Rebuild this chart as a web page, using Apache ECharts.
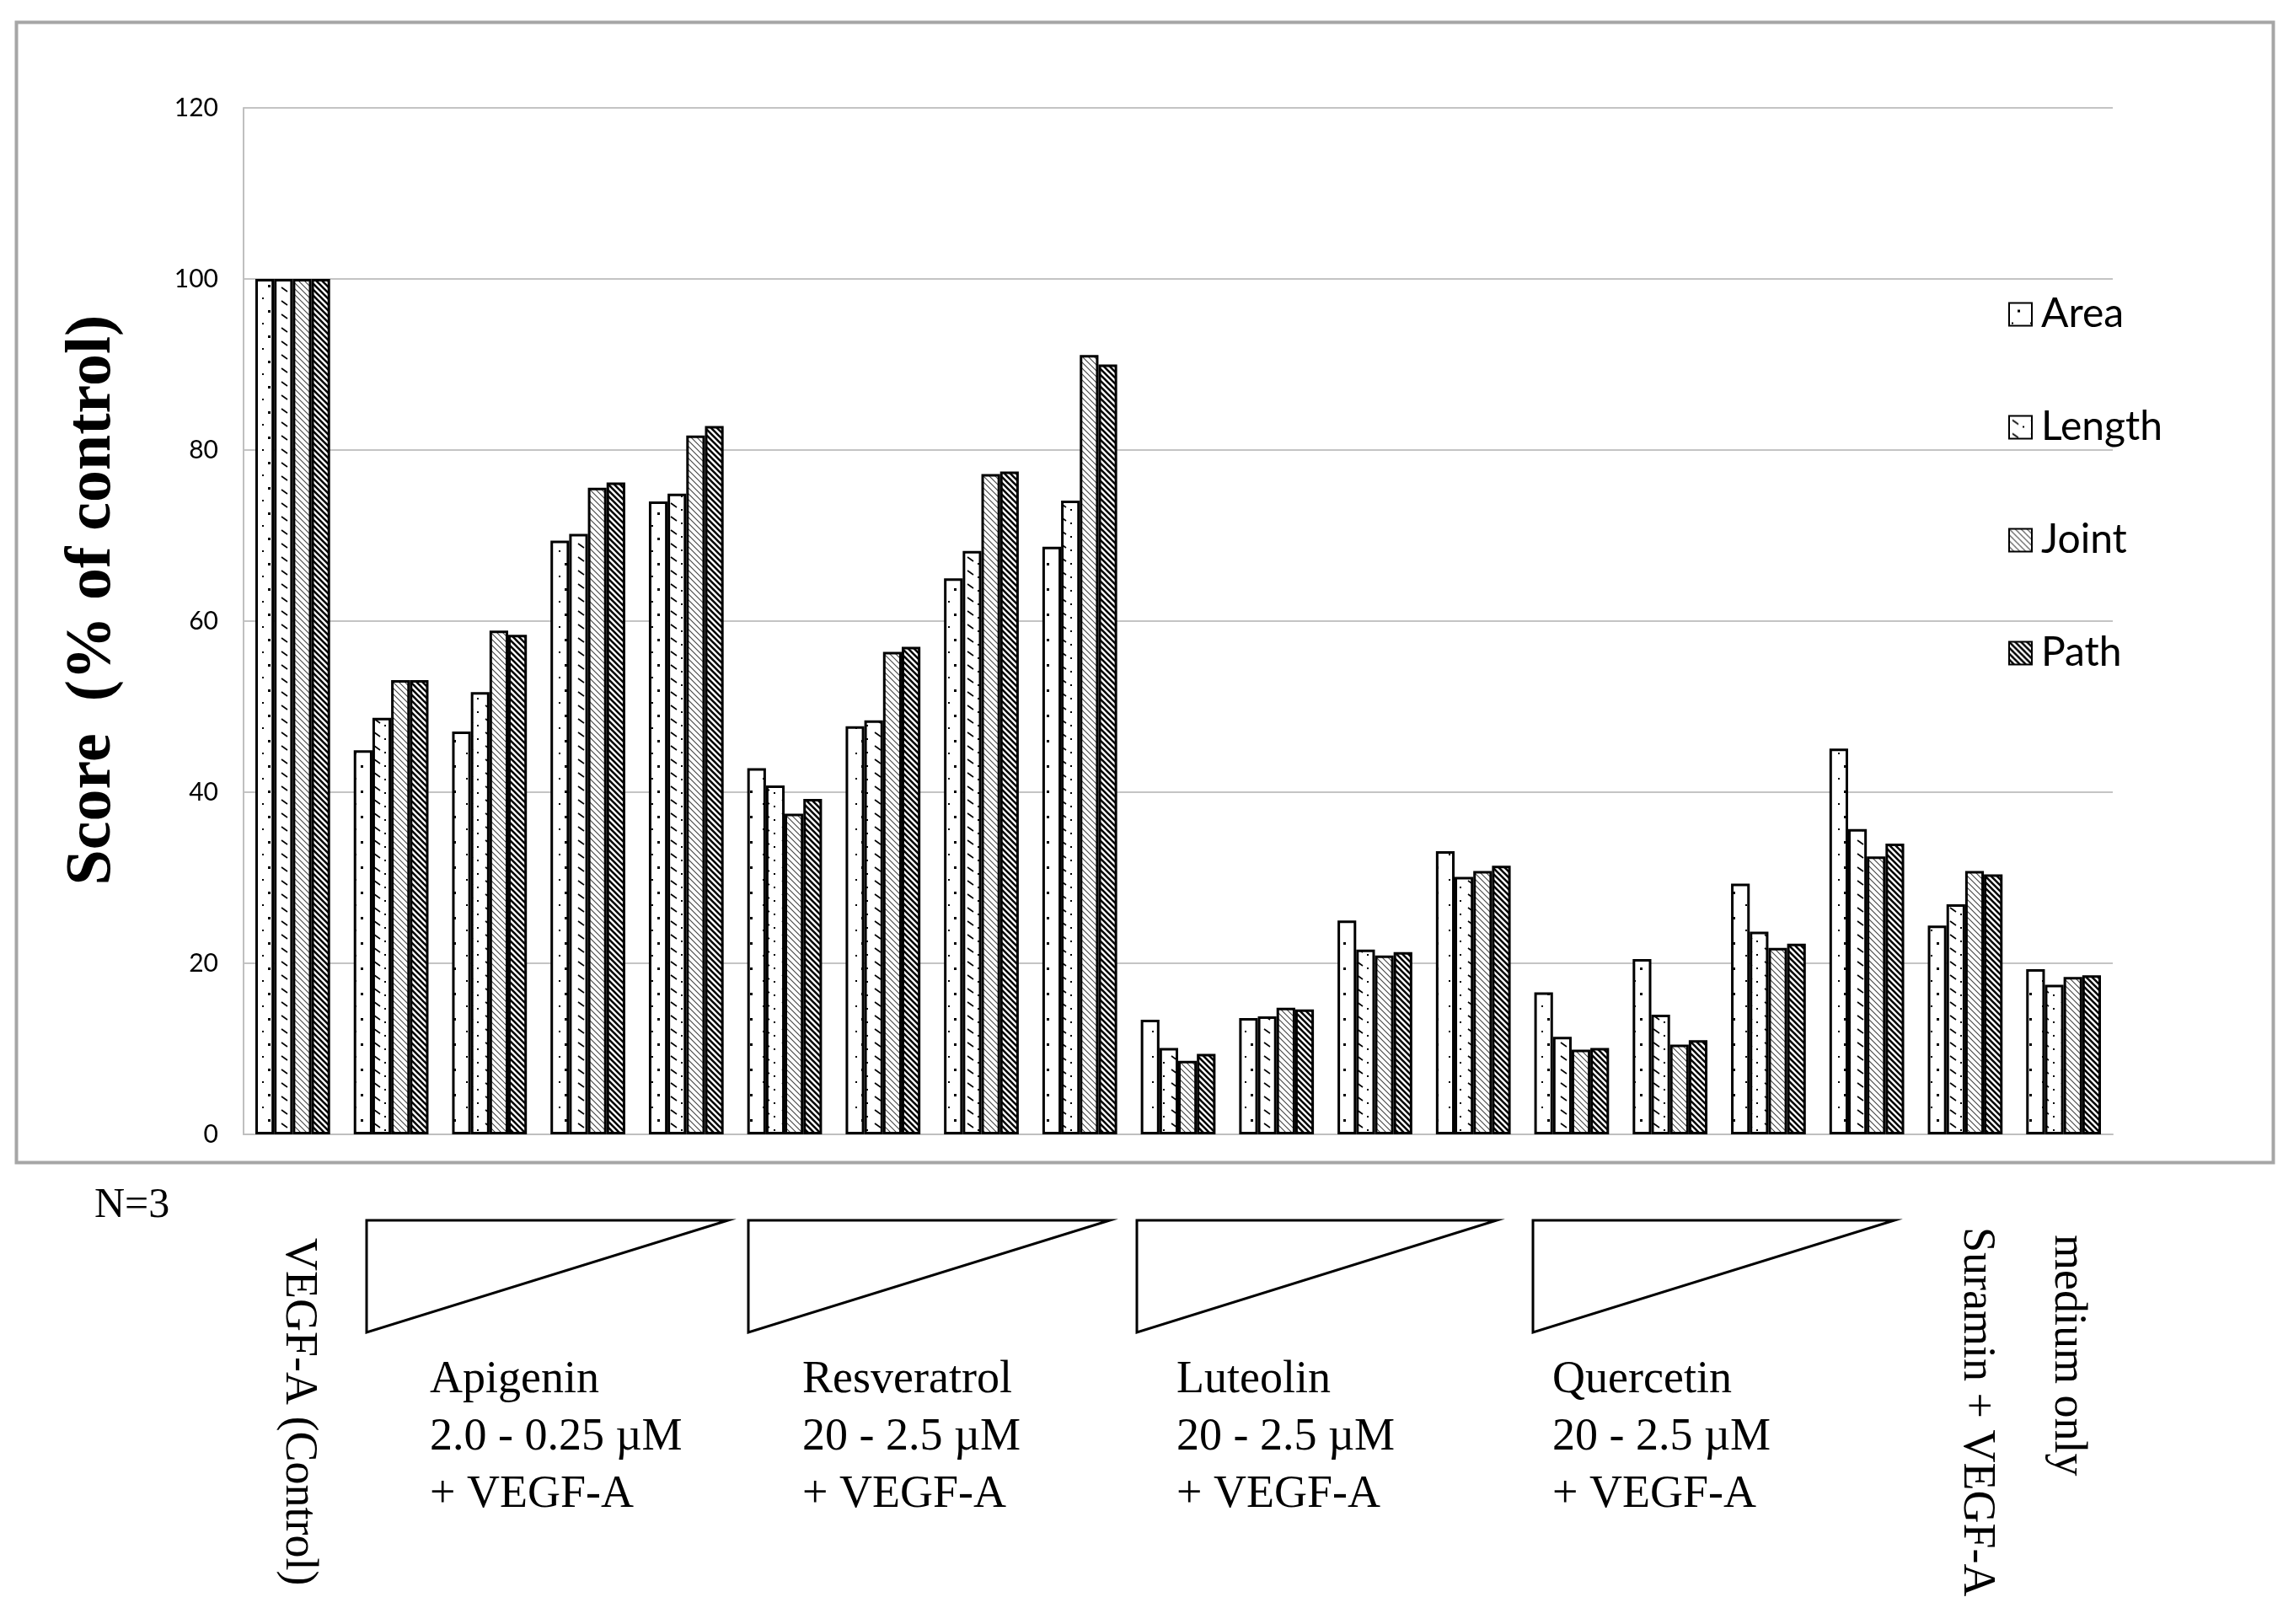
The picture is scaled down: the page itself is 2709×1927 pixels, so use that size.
<!DOCTYPE html>
<html>
<head>
<meta charset="utf-8">
<script src="https://cdn.jsdelivr.net/npm/echarts@6/dist/echarts.min.js"></script>
<style>html,body{margin:0;padding:0;background:#fff}#c{width:2709px;height:1927px}</style>
</head>
<body>
<div id="c"></div>
<script>
const categories = ["VEGF-A (Control)","Apigenin 2.0","Apigenin 1.0","Apigenin 0.5","Apigenin 0.25",
  "Resveratrol 20","Resveratrol 10","Resveratrol 5","Resveratrol 2.5",
  "Luteolin 20","Luteolin 10","Luteolin 5","Luteolin 2.5",
  "Quercetin 20","Quercetin 10","Quercetin 5","Quercetin 2.5",
  "Suramin + VEGF-A","medium only"];
const seriesNames = ["Area","Length","Joint","Path"];
const area   = [100, 44.9, 47.1, 69.4, 74.0, 42.8, 47.7, 65.0, 68.7, 13.4, 13.6, 25.0, 33.1, 16.6, 20.5, 29.3, 45.1, 24.4, 19.3];
const length = [100, 48.7, 51.7, 70.2, 74.9, 40.8, 48.4, 68.2, 74.1, 10.1, 13.8, 21.6, 30.1, 11.4, 14.0, 23.7, 35.7, 26.9, 17.5];
const joint  = [100, 53.1, 58.9, 75.6, 81.7, 37.5, 56.4, 77.2, 91.1,  8.6, 14.8, 20.9, 30.8,  9.9, 10.5, 21.8, 32.5, 30.8, 18.4];
const path   = [100, 53.1, 58.4, 76.2, 82.8, 39.2, 57.0, 77.5, 90.0,  9.4, 14.6, 21.3, 31.4, 10.1, 11.0, 22.3, 34.0, 30.4, 18.6];
const yTicks = [0, 20, 40, 60, 80, 100, 120];
const yTitle = "Score  (% of control)";
const groupTexts = [
  ["Apigenin", "2.0 - 0.25 \u00b5M", "+ VEGF-A"],
  ["Resveratrol", "20 - 2.5 \u00b5M", "+ VEGF-A"],
  ["Luteolin", "20 - 2.5 \u00b5M", "+ VEGF-A"],
  ["Quercetin", "20 - 2.5 \u00b5M", "+ VEGF-A"]
];

function makePattern(kind) {
  const c = document.createElement('canvas');
  const ctx = c.getContext('2d');
  if (kind === 'dots') {
    c.width = 22; c.height = 30;
    ctx.fillStyle = '#fff'; ctx.fillRect(0, 0, 22, 30);
    ctx.fillStyle = '#000';
    ctx.fillRect(10, 8, 3, 3);
    ctx.fillRect(3, 23, 2, 2);
  } else if (kind === 'dash') {
    c.width = 22; c.height = 16;
    ctx.fillStyle = '#fff'; ctx.fillRect(0, 0, 22, 16);
    ctx.strokeStyle = '#000'; ctx.lineWidth = 1.6;
    ctx.beginPath(); ctx.moveTo(4, 5); ctx.lineTo(11, 10); ctx.stroke();
    ctx.fillStyle = '#000'; ctx.fillRect(16, 12, 2, 2);
  } else if (kind === 'thin') {
    c.width = 7; c.height = 7;
    ctx.fillStyle = '#fff'; ctx.fillRect(0, 0, 7, 7);
    ctx.strokeStyle = '#444'; ctx.lineWidth = 1.1;
    ctx.beginPath();
    ctx.moveTo(-1, -1); ctx.lineTo(8, 8);
    ctx.moveTo(-1, 6); ctx.lineTo(1, 8);
    ctx.moveTo(6, -1); ctx.lineTo(8, 1);
    ctx.stroke();
  } else {
    c.width = 7; c.height = 7;
    ctx.fillStyle = '#fff'; ctx.fillRect(0, 0, 7, 7);
    ctx.strokeStyle = '#000'; ctx.lineWidth = 2.6;
    ctx.beginPath();
    ctx.moveTo(-1, -1); ctx.lineTo(8, 8);
    ctx.moveTo(-1, 6); ctx.lineTo(1, 8);
    ctx.moveTo(6, -1); ctx.lineTo(8, 1);
    ctx.stroke();
  }
  return { image: c, repeat: 'repeat' };
}
const patterns = [makePattern('dots'), makePattern('dash'), makePattern('thin'), makePattern('thick')];
const values = [area, length, joint, path];

const chart = echarts.init(document.getElementById('c'), null, { renderer: 'canvas' });

const serif = '"Liberation Serif", "Times New Roman", serif';
const sans = 'Lato, "Open Sans", sans-serif';
const graphics = [];
graphics.push({ type: 'rect', left: 17, top: 24, shape: { width: 2678, height: 1353 },
  style: { fill: 'none', stroke: '#a6a6a6', lineWidth: 4 }, silent: true });
graphics.push({ type: 'text', x: 110, y: 712, rotation: Math.PI / 2,
  style: { text: yTitle, font: 'bold 76px ' + serif, fill: '#000', textAlign: 'center', textVerticalAlign: 'middle' } });
graphics.push({ type: 'text', x: 112, y: 1431, style: { text: 'N=3', font: '50px ' + serif, fill: '#000', textVerticalAlign: 'middle' } });
const triX = [[435, 864], [888, 1317], [1349, 1776], [1819, 2248]];
const textX = [510, 952, 1396, 1842];
triX.forEach((t, i) => {
  graphics.push({ type: 'polygon', shape: { points: [[t[0], 1448], [t[1], 1448], [t[0], 1581]] },
    style: { fill: '#fff', stroke: '#000', lineWidth: 3 } });
  groupTexts[i].forEach((line, j) => {
    graphics.push({ type: 'text', x: textX[i], y: 1638 + j * 68,
      style: { text: line, font: '54px ' + serif, fill: '#000', textVerticalAlign: 'middle' } });
  });
});
[["VEGF-A (Control)", 354, 1469], ["Suramin + VEGF-A", 2345, 1456], ["medium only", 2453, 1465]].forEach(r => {
  graphics.push({ type: 'text', x: r[1], y: r[2], rotation: -Math.PI / 2,
    style: { text: r[0], font: '54px ' + serif, fill: '#000', textAlign: 'left', textVerticalAlign: 'middle' } });
});

const option = {
  backgroundColor: '#fff',
  animation: false,
  grid: { left: 289, right: 202, top: 128, bottom: 581, containLabel: false },
  legend: {
    orient: 'vertical', left: 2378, top: 344,
    itemWidth: 27, itemHeight: 27, itemGap: 86,
    icon: 'rect',
    textStyle: { fontFamily: sans, fontSize: 48, color: '#000', padding: [0, 0, 0, 6] },
    data: seriesNames
  },
  xAxis: {
    type: 'category', data: categories,
    axisLine: { show: true, lineStyle: { color: '#bfbfbf', width: 2 } },
    axisTick: { show: false }, axisLabel: { show: false }
  },
  yAxis: {
    type: 'value', min: 0, max: 120, interval: 20,
    axisLine: { show: true, lineStyle: { color: '#bfbfbf', width: 2 } },
    axisTick: { show: false },
    axisLabel: { fontFamily: sans, fontSize: 30, color: '#000', margin: 30,
      formatter: v => yTicks.indexOf(v) >= 0 ? String(v) : '' },
    splitLine: { show: true, lineStyle: { color: '#c4c4c4', width: 2 } }
  },
  series: seriesNames.map((n, i) => ({
    name: n, type: 'bar', data: values[i],
    barGap: '0%', barCategoryGap: '24%',
    itemStyle: { color: patterns[i], borderColor: '#000', borderWidth: 3 }
  })),
  graphic: graphics
};
chart.setOption(option);
</script>
</body>
</html>
